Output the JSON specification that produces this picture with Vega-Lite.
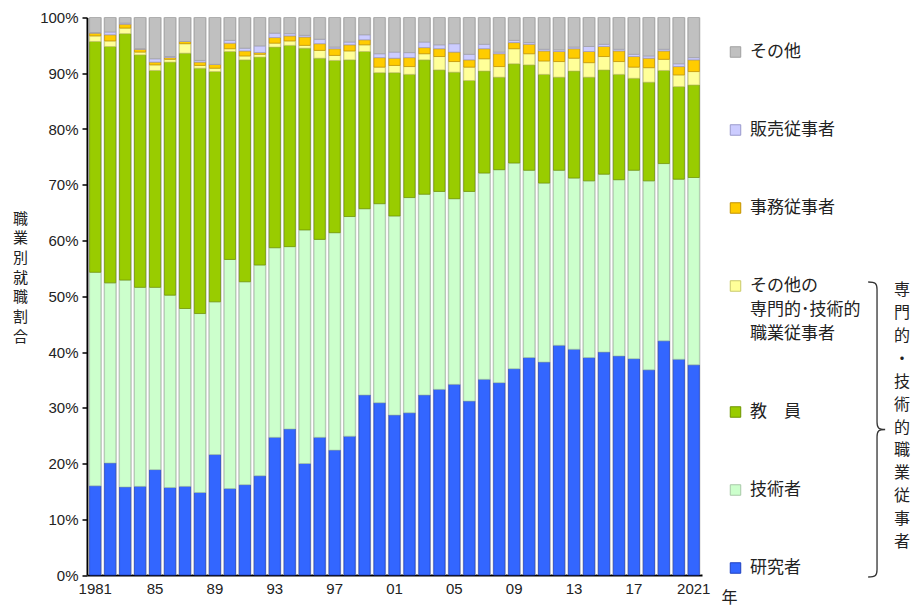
{
  "$schema": "https://vega.github.io/schema/vega-lite/v6.json",
  "width": 615,
  "height": 557.5,
  "autosize": {"type": "none"},
  "padding": {"left": 87, "top": 17.5, "right": 220, "bottom": 35},
  "background": "white",
  "config": {"view": {"stroke": null}, "font": "Noto Sans CJK JP"},
  "datasets": {
    "cats": [
      {"職業": "研究者", "k": 1},
      {"職業": "技術者", "k": 2},
      {"職業": "教員", "k": 3},
      {"職業": "その他の専門的・技術的職業従事者", "k": 4},
      {"職業": "事務従事者", "k": 5},
      {"職業": "販売従事者", "k": 6},
      {"職業": "その他", "k": 7}
    ]
  },
  "data": {
    "values": [
      {"year": 1981, "研究者": 16.0, "技術者": 38.3, "教員": 41.4, "その他の専門的・技術的職業従事者": 1.0, "事務従事者": 0.5, "販売従事者": 0.1, "その他": 2.7},
      {"year": 1982, "研究者": 20.1, "技術者": 32.3, "教員": 42.4, "その他の専門的・技術的職業従事者": 1.0, "事務従事者": 1.1, "販売従事者": 0.5, "その他": 2.6},
      {"year": 1983, "研究者": 15.8, "技術者": 37.1, "教員": 44.2, "その他の専門的・技術的職業従事者": 1.0, "事務従事者": 0.7, "販売従事者": 0.2, "その他": 1.0},
      {"year": 1984, "研究者": 15.9, "技術者": 35.7, "教員": 41.7, "その他の専門的・技術的職業従事者": 0.5, "事務従事者": 0.5, "販売従事者": 0.1, "その他": 5.6},
      {"year": 1985, "研究者": 18.9, "技術者": 32.7, "教員": 38.9, "その他の専門的・技術的職業従事者": 1.0, "事務従事者": 0.5, "販売従事者": 0.6, "その他": 7.4},
      {"year": 1986, "研究者": 15.7, "技術者": 34.5, "教員": 41.8, "その他の専門的・技術的職業従事者": 0.5, "事務従事者": 0.3, "販売従事者": 0.2, "その他": 7.0},
      {"year": 1987, "研究者": 15.9, "技術者": 31.9, "教員": 45.8, "その他の専門的・技術的職業従事者": 1.7, "事務従事者": 0.4, "販売従事者": 0.0, "その他": 4.3},
      {"year": 1988, "研究者": 14.8, "技術者": 32.1, "教員": 44.0, "その他の専門的・技術的職業従事者": 0.5, "事務従事者": 0.6, "販売従事者": 0.3, "その他": 7.7},
      {"year": 1989, "研究者": 21.6, "技術者": 27.4, "教員": 41.3, "その他の専門的・技術的職業従事者": 0.6, "事務従事者": 0.7, "販売従事者": 0.0, "その他": 8.4},
      {"year": 1990, "研究者": 15.5, "技術者": 41.1, "教員": 37.3, "その他の専門的・技術的職業従事者": 0.5, "事務従事者": 1.0, "販売従事者": 0.5, "その他": 4.1},
      {"year": 1991, "研究者": 16.2, "技術者": 36.4, "教員": 39.8, "その他の専門的・技術的職業従事者": 0.7, "事務従事者": 0.9, "販売従事者": 0.5, "その他": 5.5},
      {"year": 1992, "研究者": 17.8, "技術者": 37.8, "教員": 37.3, "その他の専門的・技術的職業従事者": 0.5, "事務従事者": 0.3, "販売従事者": 1.2, "その他": 5.1},
      {"year": 1993, "研究者": 24.7, "技術者": 34.0, "教員": 36.0, "その他の専門的・技術的職業従事者": 0.7, "事務従事者": 1.0, "販売従事者": 0.8, "その他": 2.8},
      {"year": 1994, "研究者": 26.2, "技術者": 32.7, "教員": 36.1, "その他の専門的・技術的職業従事者": 0.8, "事務従事者": 0.9, "販売従事者": 0.4, "その他": 2.9},
      {"year": 1995, "研究者": 20.0, "技術者": 41.9, "教員": 32.6, "その他の専門的・技術的職業従事者": 0.5, "事務従事者": 1.5, "販売従事者": 0.3, "その他": 3.2},
      {"year": 1996, "研究者": 24.7, "技術者": 35.5, "教員": 32.5, "その他の専門的・技術的職業従事者": 1.4, "事務従事者": 1.2, "販売従事者": 0.8, "その他": 3.9},
      {"year": 1997, "研究者": 22.4, "技術者": 39.0, "教員": 30.9, "その他の専門的・技術的職業従事者": 0.9, "事務従事者": 1.2, "販売従事者": 0.3, "その他": 5.3},
      {"year": 1998, "研究者": 24.9, "技術者": 39.4, "教員": 28.1, "その他の専門的・技術的職業従事者": 1.6, "事務従事者": 1.1, "販売従事者": 0.5, "その他": 4.4},
      {"year": 1999, "研究者": 32.3, "技術者": 33.4, "教員": 28.2, "その他の専門的・技術的職業従事者": 1.2, "事務従事者": 0.9, "販売従事者": 0.9, "その他": 3.1},
      {"year": 2000, "研究者": 30.9, "技術者": 35.7, "教員": 23.5, "その他の専門的・技術的職業従事者": 1.0, "事務従事者": 1.7, "販売従事者": 0.7, "その他": 6.5},
      {"year": 2001, "研究者": 28.7, "技術者": 35.7, "教員": 25.7, "その他の専門的・技術的職業従事者": 1.3, "事務従事者": 1.3, "販売従事者": 1.1, "その他": 6.2},
      {"year": 2002, "研究者": 29.1, "技術者": 38.6, "教員": 22.1, "その他の専門的・技術的職業従事者": 1.4, "事務従事者": 1.6, "販売従事者": 0.9, "その他": 6.3},
      {"year": 2003, "研究者": 32.3, "技術者": 36.0, "教員": 24.1, "その他の専門的・技術的職業従事者": 1.1, "事務従事者": 1.1, "販売従事者": 1.0, "その他": 4.4},
      {"year": 2004, "研究者": 33.3, "技術者": 35.5, "教員": 21.8, "その他の専門的・技術的職業従事者": 2.4, "事務従事者": 1.4, "販売従事者": 0.7, "その他": 4.9},
      {"year": 2005, "研究者": 34.2, "技術者": 33.3, "教員": 22.7, "その他の専門的・技術的職業従事者": 1.9, "事務従事者": 1.7, "販売従事者": 1.5, "その他": 4.7},
      {"year": 2006, "研究者": 31.2, "技術者": 37.6, "教員": 19.9, "その他の専門的・技術的職業従事者": 2.4, "事務従事者": 1.3, "販売従事者": 1.0, "その他": 6.6},
      {"year": 2007, "研究者": 35.1, "技術者": 37.0, "教員": 18.3, "その他の専門的・技術的職業従事者": 2.2, "事務従事者": 1.8, "販売従事者": 0.8, "その他": 4.8},
      {"year": 2008, "研究者": 34.5, "技術者": 38.2, "教員": 16.6, "その他の専門的・技術的職業従事者": 1.9, "事務従事者": 2.3, "販売従事者": 0.3, "その他": 6.2},
      {"year": 2009, "研究者": 37.0, "技術者": 36.9, "教員": 17.8, "その他の専門的・技術的職業従事者": 2.7, "事務従事者": 1.1, "販売従事者": 0.4, "その他": 4.1},
      {"year": 2010, "研究者": 39.0, "技術者": 33.6, "教員": 18.9, "その他の専門的・技術的職業従事者": 2.0, "事務従事者": 1.7, "販売従事者": 0.3, "その他": 4.5},
      {"year": 2011, "研究者": 38.2, "技術者": 32.1, "教員": 19.5, "その他の専門的・技術的職業従事者": 2.4, "事務従事者": 1.8, "販売従事者": 0.3, "その他": 5.7},
      {"year": 2012, "研究者": 41.2, "技術者": 31.4, "教員": 16.7, "その他の専門的・技術的職業従事者": 2.8, "事務従事者": 1.8, "販売従事者": 0.3, "その他": 5.8},
      {"year": 2013, "研究者": 40.5, "技術者": 30.7, "教員": 19.2, "その他の専門的・技術的職業従事者": 2.3, "事務従事者": 1.7, "販売従事者": 0.3, "その他": 5.3},
      {"year": 2014, "研究者": 39.0, "技術者": 31.7, "教員": 18.6, "その他の専門的・技術的職業従事者": 2.6, "事務従事者": 2.0, "販売従事者": 0.9, "その他": 5.2},
      {"year": 2015, "研究者": 40.0, "技術者": 31.9, "教員": 18.7, "その他の専門的・技術的職業従事者": 2.4, "事務従事者": 1.8, "販売従事者": 0.4, "その他": 4.8},
      {"year": 2016, "研究者": 39.3, "技術者": 31.6, "教員": 18.9, "その他の専門的・技術的職業従事者": 2.3, "事務従事者": 1.9, "販売従事者": 0.3, "その他": 5.7},
      {"year": 2017, "研究者": 38.8, "技術者": 33.8, "教員": 16.5, "その他の専門的・技術的職業従事者": 2.0, "事務従事者": 1.9, "販売従事者": 0.4, "その他": 6.6},
      {"year": 2018, "研究者": 36.8, "技術者": 33.9, "教員": 17.7, "その他の専門的・技術的職業従事者": 2.6, "事務従事者": 1.7, "販売従事者": 0.4, "その他": 6.9},
      {"year": 2019, "研究者": 42.0, "技術者": 31.8, "教員": 16.7, "その他の専門的・技術的職業従事者": 2.0, "事務従事者": 1.5, "販売従事者": 0.3, "その他": 5.7},
      {"year": 2020, "研究者": 38.7, "技術者": 32.3, "教員": 16.6, "その他の専門的・技術的職業従事者": 2.1, "事務従事者": 1.5, "販売従事者": 0.5, "その他": 8.3},
      {"year": 2021, "研究者": 37.7, "技術者": 33.6, "教員": 16.6, "その他の専門的・技術的職業従事者": 2.4, "事務従事者": 2.1, "販売従事者": 0.4, "その他": 7.2}
    ]
  },
  "layer": [
    {
      "layer": [
        {
          "mark": {"type": "bar", "width": {"band": 0.88}, "color": "#c4c4c4"},
          "encoding": {
            "x": {
              "field": "year", "type": "ordinal",
              "scale": {"paddingInner": 0, "paddingOuter": 0.05},
              "axis": {
                "title": "年",
                "titleAnchor": "start",
                "titleAlign": "left",
                "titleX": 634,
                "titleY": 22,
                "titleBaseline": "middle",
                "titleFont": "Noto Sans CJK JP",
                "titleFontSize": 16,
                "titleFontWeight": "normal",
                "titleColor": "#222",
                "labelAngle": 0,
                "labelExpr": "datum.value == 1981 || datum.value == 2021 ? datum.label : ((datum.value - 1981) % 4 == 0 ? slice(datum.label, 2) : '')",
                "labelOverlap": false,
                "labelFont": "Liberation Sans",
                "labelFontSize": 15,
                "labelColor": "#222",
                "labelPadding": 6,
                "ticks": false,
                "domainColor": "#000",
                "domainWidth": 2,
                "grid": false
              }
            },
            "y": {"datum": 100, "type": "quantitative"},
            "y2": {"datum": 0}
          }
        },
        {
          "transform": [
            {"fold": ["研究者", "技術者", "教員", "その他の専門的・技術的職業従事者", "事務従事者", "販売従事者", "その他"], "as": ["職業", "割合"]},
            {"lookup": "職業", "from": {"data": {"name": "cats"}, "key": "職業", "fields": ["k"]}}
          ],
          "mark": {"type": "bar", "width": {"band": 0.75}, "strokeWidth": 0.7},
          "encoding": {
            "x": {"field": "year", "type": "ordinal"},
            "y": {
              "field": "割合", "type": "quantitative", "stack": "zero",
              "scale": {"domain": [0, 100], "nice": false},
              "axis": {
                "values": [0, 10, 20, 30, 40, 50, 60, 70, 80, 90, 100],
                "labelExpr": "datum.value + '%'",
                "labelFont": "Liberation Sans",
                "labelFontSize": 15,
                "labelColor": "#222",
                "labelPadding": 4,
                "tickColor": "#000",
                "tickSize": 5,
                "tickWidth": 1.5,
                "domainColor": "#000",
                "domainWidth": 2,
                "gridColor": "#8c8c8c",
                "gridWidth": 1,
                "title": ["職", "業", "別", "就", "職", "割", "合"],
                "titleAngle": 0,
                "titleFont": "Noto Sans CJK JP",
                "titleFontSize": 15,
                "titleFontWeight": "normal",
                "titleColor": "#222",
                "titleLineHeight": 19.7,
                "titleAlign": "center",
                "titleBaseline": "middle",
                "titleX": -67,
                "titleY": 200.5
              }
            },
            "order": {"field": "k", "type": "quantitative", "sort": "ascending"},
            "color": {
              "field": "職業", "type": "nominal",
              "scale": {
                "domain": ["研究者", "技術者", "教員", "その他の専門的・技術的職業従事者", "事務従事者", "販売従事者", "その他"],
                "range": ["#3366ff", "#ccffcc", "#99cc00", "#ffff99", "#ffcc00", "#ccccff", "#c0c0c0"]
              },
              "legend": {
                "orient": "none",
                "legendX": 640,
                "legendY": 26,
                "title": null,
                "values": ["その他", "販売従事者", "事務従事者", "その他の専門的・技術的職業従事者", "教員", "技術者", "研究者"],
                "labelExpr": "datum.label == 'その他の専門的・技術的職業従事者' ? ['その他の', '専門的･技術的', '職業従事者'] : (datum.label == '教員' ? '教　員' : datum.label)",
                "symbolType": "square",
                "symbolSize": 110,
                "symbolStrokeColor": "#777",
                "symbolStrokeWidth": 1,
                "labelFont": "Noto Sans CJK JP",
                "labelFontSize": 17,
                "labelColor": "#222",
                "labelLimit": 0,
                "labelOffset": 6,
                "rowPadding": 60,
                "encoding": {"labels": {"lineHeight": {"value": 24}}}
              }
            },
            "stroke": {
              "field": "職業", "type": "nominal",
              "scale": {
                "domain": ["研究者", "技術者", "教員", "その他の専門的・技術的職業従事者", "事務従事者", "販売従事者", "その他"],
                "range": ["#1f40c0", "#a8c8a8", "#6e9400", "#c9c96a", "#c29100", "#9a9acc", "#a0a0a0"]
              },
              "legend": null
            }
          }
        }
      ]
    },
    {
      "data": {"values": [{"a": 1}]},
      "mark": {
        "type": "point",
        "shape": "M-0.06,-1C-0.01,-1,0,-0.99,0,-0.95L0,-0.05C0,-0.01,0.01,0,0.055,0C0.01,0,0,0.01,0,0.05L0,0.95C0,0.99,-0.01,1,-0.06,1",
        "size": 87025,
        "filled": false,
        "stroke": "#333",
        "strokeWidth": 1.3,
        "opacity": 1
      },
      "encoding": {
        "x": {"datum": 1.2846, "type": "quantitative", "scale": {"domain": [0, 1]}, "axis": null},
        "y": {"datum": 26.1, "type": "quantitative"}
      }
    },
    {
      "data": {"values": [{"a": 1}]},
      "mark": {
        "type": "text",
        "text": ["専", "門", "的", "・", "技", "術", "的", "職", "業", "従", "事", "者"],
        "font": "Noto Sans CJK JP",
        "fontSize": 16,
        "lineHeight": 22.9,
        "color": "#222",
        "align": "center",
        "baseline": "middle"
      },
      "encoding": {
        "x": {"datum": 1.3252, "type": "quantitative", "scale": {"domain": [0, 1]}, "axis": null},
        "y": {"datum": 51.1, "type": "quantitative"}
      }
    }
  ],
  "resolve": {"scale": {"x": "independent"}}
}
